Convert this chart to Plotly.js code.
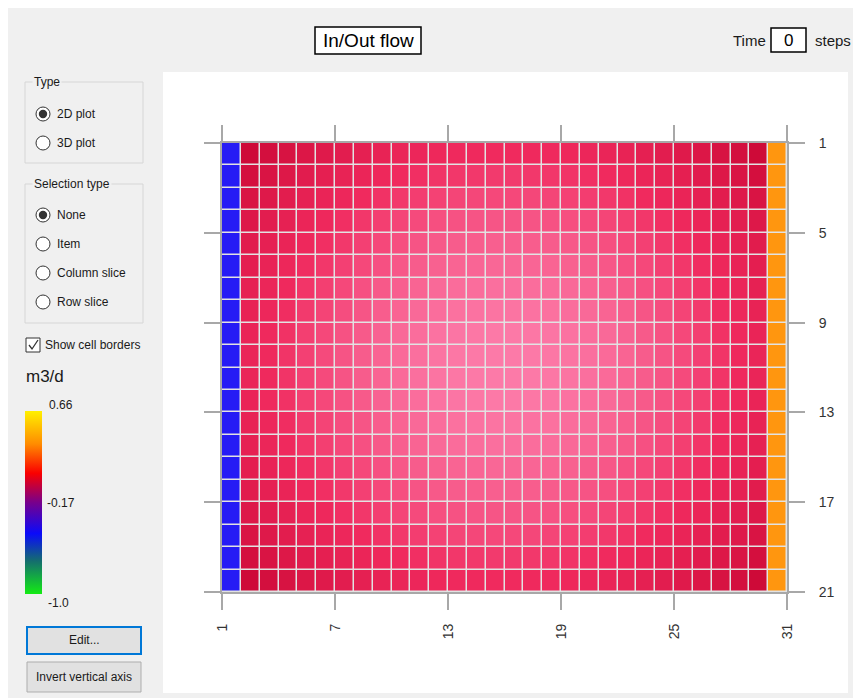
<!DOCTYPE html>
<html>
<head>
<meta charset="utf-8">
<script src="https://cdn.plot.ly/plotly-3.0.1.min.js"></script>
<style>
  html, body { margin: 0; padding: 0; background: #f0f0f0; }
  #chart { width: 853px; height: 698px; }
</style>
</head>
<body>
<div id="chart"></div>
<script>
// ---------------- data ----------------
const colEdges = [1,2,3,4,5,6,7,8,9,10,11,12,13,14,15,16,17,18,19,20,21,22,23,24,25,26,27,28,29,30,31];
const rowEdges = [1,2,3,4,5,6,7,8,9,10,11,12,13,14,15,16,17,18,19,20,21];
const xTicks = [1,7,13,19,25,31];
const yTicks = [1,5,9,13,17,21];

// column 1: inflow cells (m3/d)
const inflow  = [-0.45,-0.45,-0.45,-0.45,-0.45,-0.45,-0.45,-0.45,-0.45,-0.45,-0.45,-0.45,-0.45,-0.45,-0.45,-0.45,-0.45,-0.45,-0.45,-0.45];
// column 30: outflow cells (m3/d)
const outflow = [0.42,0.42,0.42,0.42,0.42,0.42,0.42,0.42,0.42,0.42,0.42,0.42,0.42,0.42,0.42,0.42,0.42,0.42,0.42,0.42];
// columns 2..29, rows 1..20 (m3/d)
const interior = [
 [.030,.039,.046,.054,.060,.066,.071,.076,.080,.083,.086,.088,.089,.090,.090,.089,.088,.086,.083,.080,.076,.071,.066,.060,.054,.046,.039,.030],
 [.040,.049,.056,.064,.070,.076,.081,.086,.090,.093,.096,.098,.099,.100,.100,.099,.098,.096,.093,.090,.086,.081,.076,.070,.064,.056,.049,.040],
 [.049,.058,.065,.073,.079,.085,.090,.095,.099,.102,.105,.107,.108,.109,.109,.108,.107,.105,.102,.099,.095,.090,.085,.079,.073,.065,.058,.049],
 [.057,.066,.073,.081,.087,.093,.098,.103,.107,.110,.113,.115,.116,.117,.117,.116,.115,.113,.110,.107,.103,.098,.093,.087,.081,.073,.066,.057],
 [.063,.072,.079,.087,.093,.099,.104,.109,.113,.116,.119,.121,.122,.123,.123,.122,.121,.119,.116,.113,.109,.104,.099,.093,.087,.079,.072,.063],
 [.068,.077,.084,.092,.098,.104,.109,.114,.118,.121,.124,.126,.127,.128,.128,.127,.126,.124,.121,.118,.114,.109,.104,.098,.092,.084,.077,.068],
 [.073,.082,.089,.097,.103,.109,.114,.119,.123,.126,.129,.131,.132,.133,.133,.132,.131,.129,.126,.123,.119,.114,.109,.103,.097,.089,.082,.073],
 [.076,.085,.092,.100,.106,.112,.117,.122,.126,.129,.132,.134,.135,.136,.136,.135,.134,.132,.129,.126,.122,.117,.112,.106,.100,.092,.085,.076],
 [.079,.088,.095,.103,.109,.115,.120,.125,.129,.132,.135,.137,.138,.139,.139,.138,.137,.135,.132,.129,.125,.120,.115,.109,.103,.095,.088,.079],
 [.080,.089,.096,.104,.110,.116,.121,.126,.130,.133,.136,.138,.139,.140,.140,.139,.138,.136,.133,.130,.126,.121,.116,.110,.104,.096,.089,.080],
 [.080,.089,.096,.104,.110,.116,.121,.126,.130,.133,.136,.138,.139,.140,.140,.139,.138,.136,.133,.130,.126,.121,.116,.110,.104,.096,.089,.080],
 [.079,.088,.095,.103,.109,.115,.120,.125,.129,.132,.135,.137,.138,.139,.139,.138,.137,.135,.132,.129,.125,.120,.115,.109,.103,.095,.088,.079],
 [.076,.085,.092,.100,.106,.112,.117,.122,.126,.129,.132,.134,.135,.136,.136,.135,.134,.132,.129,.126,.122,.117,.112,.106,.100,.092,.085,.076],
 [.073,.082,.089,.097,.103,.109,.114,.119,.123,.126,.129,.131,.132,.133,.133,.132,.131,.129,.126,.123,.119,.114,.109,.103,.097,.089,.082,.073],
 [.068,.077,.084,.092,.098,.104,.109,.114,.118,.121,.124,.126,.127,.128,.128,.127,.126,.124,.121,.118,.114,.109,.104,.098,.092,.084,.077,.068],
 [.063,.072,.079,.087,.093,.099,.104,.109,.113,.116,.119,.121,.122,.123,.123,.122,.121,.119,.116,.113,.109,.104,.099,.093,.087,.079,.072,.063],
 [.057,.066,.073,.081,.087,.093,.098,.103,.107,.110,.113,.115,.116,.117,.117,.116,.115,.113,.110,.107,.103,.098,.093,.087,.081,.073,.066,.057],
 [.049,.058,.065,.073,.079,.085,.090,.095,.099,.102,.105,.107,.108,.109,.109,.108,.107,.105,.102,.099,.095,.090,.085,.079,.073,.065,.058,.049],
 [.040,.049,.056,.064,.070,.076,.081,.086,.090,.093,.096,.098,.099,.100,.100,.099,.098,.096,.093,.090,.086,.081,.076,.070,.064,.056,.049,.040],
 [.030,.039,.046,.054,.060,.066,.071,.076,.080,.083,.086,.088,.089,.090,.090,.089,.088,.086,.083,.080,.076,.071,.066,.060,.054,.046,.039,.030]
];
const scaleMin = -1.0, scaleMid = -0.17, scaleMax = 0.66;
const scaleLabels = ['-1.0', '-0.17', '0.66'];

// ---------------- build ----------------
const z = interior.map((row, i) => [inflow[i]].concat(row, [outflow[i]]));

const W = 853, H = 698;
const P = x => x / W;
const Q = y => 1 - y / H;

const GUI = '"Liberation Sans", Arial, sans-serif';
const TICKF = '"Liberation Sans", Arial, sans-serif';

// colorscale used for cells (includes the shaded pinks of the rendered surface)
const cellScale = [
  [0.0,    'rgb(0,230,0)'],
  [0.3313, 'rgb(38,28,245)'],
  [0.5,    'rgb(110,0,150)'],
  [0.6205, 'rgb(206,10,56)'],
  [0.6566, 'rgb(240,42,94)'],
  [0.6867, 'rgb(252,122,168)'],
  [0.8554, 'rgb(255,150,15)'],
  [1.0,    'rgb(255,240,0)']
];
// legend colour ramp
const legendScale = [
  [0.0,  'rgb(20,235,20)'],
  [0.18, 'rgb(20,110,110)'],
  [0.33, 'rgb(10,10,250)'],
  [0.5,  'rgb(120,0,140)'],
  [0.66, 'rgb(250,0,0)'],
  [0.82, 'rgb(255,140,0)'],
  [1.0,  'rgb(255,240,0)']
];

const heat = {
  type: 'heatmap',
  x: colEdges, y: rowEdges, z: z,
  zmin: scaleMin, zmax: scaleMax,
  colorscale: cellScale,
  showscale: false,
  xgap: 1.5, ygap: 1.5,
  hoverinfo: 'skip'
};
const legendTrace = {
  type: 'scatter', mode: 'markers',
  x: [null, null], y: [null, null],
  showlegend: false, hoverinfo: 'skip',
  marker: {
    color: [scaleMin, scaleMax], cmin: scaleMin, cmax: scaleMax,
    colorscale: legendScale, showscale: true,
    colorbar: {
      x: P(25), xanchor: 'left', xpad: 0, ypad: 0,
      y: Q(502.5), yanchor: 'middle',
      thickness: 17, thicknessmode: 'pixels',
      len: 183, lenmode: 'pixels',
      outlinewidth: 0, showticklabels: false, ticks: ''
    }
  }
};

function rect(x0, y0, x1, y1, fill, line, lw) {
  return {type: 'rect', xref: 'paper', yref: 'paper', layer: 'below',
    x0: P(x0), x1: P(x1), y0: Q(y1), y1: Q(y0),
    fillcolor: fill, line: {color: line || 'rgba(0,0,0,0)', width: lw === undefined ? 1 : lw}};
}
function circ(cx, cy, r, fill, line, lw) {
  return {type: 'circle', xref: 'paper', yref: 'paper', layer: 'above',
    x0: P(cx - r), x1: P(cx + r), y0: Q(cy + r), y1: Q(cy - r),
    fillcolor: fill, line: {color: line || 'rgba(0,0,0,0)', width: lw || 0}};
}

const shapes = [
  rect(0, 0, W, 8, '#ffffff', null, 0),
  rect(0, 0, 8, H, '#ffffff', null, 0),
  rect(163, 72, 848, 693, '#ffffff', null, 0),
  rect(222, 143, 787, 592, '#e2e2e2', null, 0),
  rect(25, 82, 143, 163, 'rgba(0,0,0,0)', '#d6d6d6', 1),
  rect(25, 184, 143, 323, 'rgba(0,0,0,0)', '#d6d6d6', 1),
  rect(315, 27, 421, 54, '#ffffff', '#000000', 1.5),
  rect(771, 28, 806, 52, '#ffffff', '#000000', 1.5),
  rect(26, 338, 40, 352, '#ffffff', '#333333', 1),
  rect(27, 627, 141, 654, '#e1e1e1', '#0078d7', 2),
  rect(27, 662, 141, 692, '#e1e1e1', '#adadad', 1),
  {type: 'path', xref: 'paper', yref: 'paper', layer: 'above',
   path: 'M ' + P(29) + ' ' + Q(345) + ' L ' + P(32) + ' ' + Q(349) + ' L ' + P(38) + ' ' + Q(340),
   line: {color: '#333333', width: 1.3}}
];
const radioY = [114, 143, 215, 244, 273, 302];
const radioOn = [true, false, true, false, false, false];
radioY.forEach((y, i) => {
  shapes.push(circ(43, y, 7, '#ffffff', '#333333', 1));
  if (radioOn[i]) shapes.push(circ(43, y, 4.2, '#333333', '#333333', 0));
});

function ann(text, x, y, size, anchor, extra) {
  return Object.assign({text: text, xref: 'paper', yref: 'paper', x: P(x), y: Q(y),
    xanchor: anchor || 'left', yanchor: 'middle', showarrow: false,
    font: {family: GUI, size: size, color: '#1a1a1a'}}, extra || {});
}
const annotations = [
  ann('In/Out flow', 368, 40, 19, 'center', {font: {family: GUI, size: 19, color: '#000'}}),
  ann('Time', 749, 40, 15, 'center'),
  ann('0', 788.5, 40, 17, 'center', {font: {family: GUI, size: 17, color: '#000'}}),
  ann('steps', 813, 40, 15, 'left'),
  ann('Type', 32, 82, 12, 'left', {bgcolor: '#f0f0f0'}),
  ann('2D plot', 55, 114, 12),
  ann('3D plot', 55, 143, 12),
  ann('Selection type', 32, 184, 12, 'left', {bgcolor: '#f0f0f0'}),
  ann('None', 55, 215, 12),
  ann('Item', 55, 244, 12),
  ann('Column slice', 55, 273, 12),
  ann('Row slice', 55, 302, 12),
  ann('Show cell borders', 43, 345, 12),
  ann('m3/d', 24, 376, 17),
  ann(scaleLabels[2], 47, 405, 12),
  ann(scaleLabels[1], 45, 503, 12),
  ann(scaleLabels[0], 46, 603, 12),
  ann('Edit...', 84, 640, 12, 'center'),
  ann('Invert vertical axis', 84, 677, 12, 'center')
];

const axisCommon = {
  showgrid: false, zeroline: false,
  showline: true, linecolor: '#a8a8a8', linewidth: 2,
  mirror: 'ticks', ticks: 'outside', ticklen: 16, tickwidth: 2, tickcolor: '#a8a8a8',
  tickfont: {family: TICKF, size: 14, color: '#333333'},
  tickmode: 'array', fixedrange: true
};

const layout = {
  width: W, height: H,
  margin: {l: 0, r: 0, t: 0, b: 0},
  paper_bgcolor: '#f0f0f0',
  plot_bgcolor: 'rgba(0,0,0,0)',
  showlegend: false,
  xaxis: Object.assign({}, axisCommon, {
    domain: [P(222), P(787)], range: [colEdges[0], colEdges[colEdges.length - 1]],
    tickvals: xTicks, ticktext: xTicks.map(String), tickangle: -90, side: 'bottom',
    ticklabelstandoff: 8
  }),
  yaxis: Object.assign({}, axisCommon, {
    domain: [Q(592), Q(143)], range: [rowEdges[rowEdges.length - 1], rowEdges[0]],
    tickvals: yTicks, ticktext: yTicks.map(String), side: 'right',
    ticklabelstandoff: 11
  }),
  shapes: shapes,
  annotations: annotations
};

Plotly.newPlot('chart', [heat, legendTrace], layout, {displayModeBar: false, staticPlot: true});
</script>
</body>
</html>
